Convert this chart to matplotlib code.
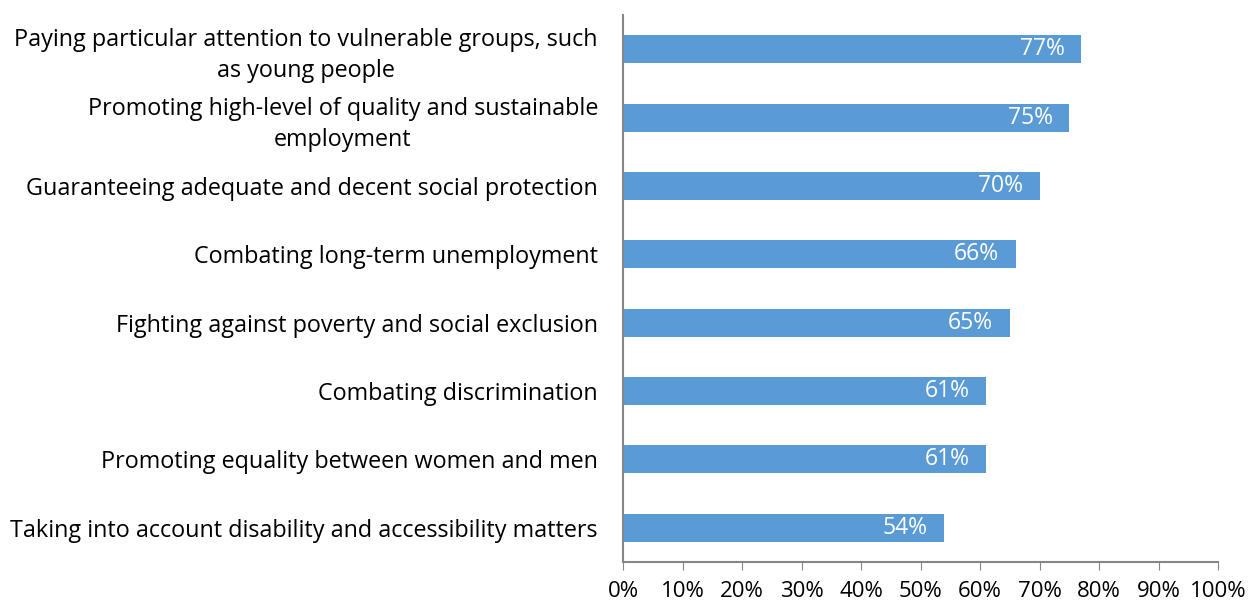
import matplotlib.pyplot as plt

categories = [
    "Paying particular attention to vulnerable groups, such\nas young people",
    "Promoting high-level of quality and sustainable\nemployment",
    "Guaranteeing adequate and decent social protection",
    "Combating long-term unemployment",
    "Fighting against poverty and social exclusion",
    "Combating discrimination",
    "Promoting equality between women and men",
    "Taking into account disability and accessibility matters",
]
values = [77, 75, 70, 66, 65, 61, 61, 54]
xticks = [0, 10, 20, 30, 40, 50, 60, 70, 80, 90, 100]

plt.rcParams['font.family'] = ['Open Sans', 'DejaVu Sans']

fig = plt.figure(figsize=(12.51, 6.08), dpi=100)
ax = fig.add_axes([623 / 1251, 1 - 562 / 608, (1218 - 623) / 1251, (562 - 15) / 608])

ypos = list(range(len(categories)))[::-1]
ax.barh(ypos, values, height=0.41, color='#5B9BD5')

for y, v in zip(ypos, values):
    ax.annotate(f'{v}%', xy=(v, y), xytext=(-12, 0), textcoords='offset points',
                ha='right', va='center', color='white', fontsize=16.5)

ax.set_xlim(0, 100)
ax.set_ylim(-0.5, len(categories) - 0.5)
ax.set_xticks(xticks)
ax.set_xticklabels([f'{t}%' for t in xticks], fontsize=16)
ax.set_yticks(ypos)
ax.set_yticklabels(categories, fontsize=16.8, multialignment='center', linespacing=1.4)
ax.tick_params(axis='y', length=0, pad=18)
ax.tick_params(axis='x', length=6, color='#868686', pad=8)

for s in ['top', 'right']:
    ax.spines[s].set_visible(False)
for s in ['left', 'bottom']:
    ax.spines[s].set_color('#868686')
    ax.spines[s].set_linewidth(1.5)

fig.savefig('out.png', dpi=100)
